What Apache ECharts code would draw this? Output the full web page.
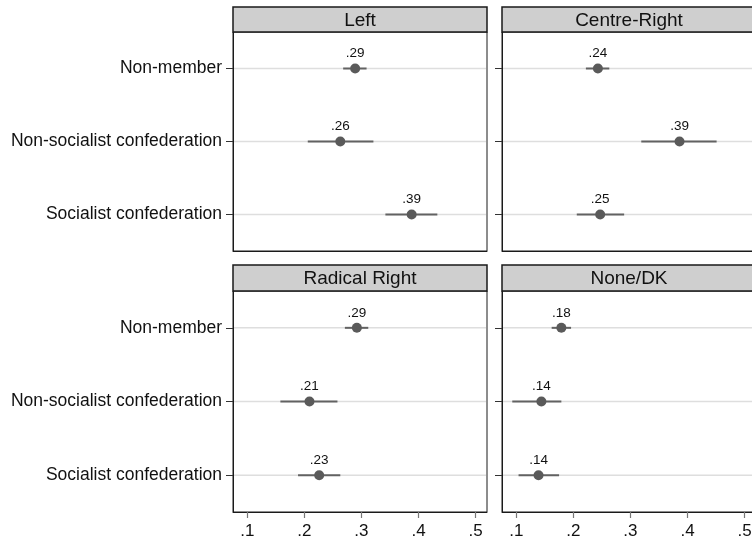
<!DOCTYPE html>
<html><head><meta charset="utf-8">
<script src="https://cdn.jsdelivr.net/npm/echarts@6/dist/echarts.min.js"></script>
<style>html,body{margin:0;padding:0;background:#fff;overflow:hidden}#c{width:752px;height:541px}</style>
</head><body><div id="c"></div>
<script>
// ---- data ----
const categories = ['Non-member', 'Non-socialist confederation', 'Socialist confederation'];
const panelTitles = ['Left', 'Centre-Right', 'Radical Right', 'None/DK'];
const xTicks = [0.1, 0.2, 0.3, 0.4, 0.5];

const leftEst  = [0.289, 0.263, 0.388];
const leftLow  = [0.268, 0.206, 0.342];
const leftHigh = [0.309, 0.321, 0.433];

const centreRightEst  = [0.243, 0.386, 0.247];
const centreRightLow  = [0.222, 0.319, 0.206];
const centreRightHigh = [0.263, 0.451, 0.289];

const radicalRightEst  = [0.292, 0.209, 0.226];
const radicalRightLow  = [0.271, 0.158, 0.189];
const radicalRightHigh = [0.312, 0.258, 0.263];

const noneEst  = [0.179, 0.144, 0.139];
const noneLow  = [0.162, 0.093, 0.104];
const noneHigh = [0.196, 0.179, 0.175];

const panelData = [
  [leftEst, leftLow, leftHigh],
  [centreRightEst, centreRightLow, centreRightHigh],
  [radicalRightEst, radicalRightLow, radicalRightHigh],
  [noneEst, noneLow, noneHigh]
];

// ---- layout ----
const FONT = '"Liberation Sans", Arial, Helvetica, sans-serif';
const colX = [233, 502];
const panelW = 254;
const rows = [{top: 32, h: 219, headTop: 7}, {top: 291, h: 221, headTop: 265}];

const grids = [], xAxes = [], yAxes = [], series = [], graphics = [];
for (let p = 0; p < 4; p++) {
  const col = p % 2, row = Math.floor(p / 2);
  const left = colX[col], r = rows[row];
  grids.push({left: left, top: r.top, width: panelW, height: r.h, show: true,
    borderColor: '#1a1a1a', borderWidth: 1, backgroundColor: '#fff',
    containLabel: false, outerBoundsMode: 'none'});
  const bottom = row === 1;
  xAxes.push({type: 'value', gridIndex: p, min: 0.075, max: 0.52,
    axisLine: {show: true, onZero: false, lineStyle: {color: '#1a1a1a', width: 1}},
    axisTick: {show: bottom, length: 6, customValues: xTicks, lineStyle: {color: '#777', width: 1.2}},
    axisLabel: {show: bottom, customValues: xTicks, margin: 11, fontSize: 17, color: '#111', fontFamily: FONT,
      formatter: v => String(+v.toFixed(1)).replace(/^0/, '')},
    splitLine: {show: false}});
  yAxes.push({type: 'category', gridIndex: p, data: categories, inverse: true,
    axisLine: {show: true, lineStyle: {color: '#1a1a1a', width: 1}},
    axisTick: {show: true, alignWithLabel: true, length: 7, lineStyle: {color: '#333', width: 1}},
    axisLabel: {show: col === 0, margin: 11, fontSize: 17.5, color: '#111', fontFamily: FONT},
    splitLine: {show: false}});
  const [est, lo, hi] = panelData[p];
  series.push({type: 'custom', xAxisIndex: p, yAxisIndex: p, z: 2,
    encode: {x: [1, 2], y: 0},
    data: categories.map((c, i) => [i, lo[i], hi[i]]),
    renderItem: function (params, api) {
      const cs = params.coordSys;
      const a = api.coord([api.value(1), api.value(0)]);
      const b = api.coord([api.value(2), api.value(0)]);
      return {type: 'group', children: [
        {type: 'line', shape: {x1: cs.x + 1, y1: a[1], x2: cs.x + cs.width - 1, y2: a[1]},
          style: {stroke: '#dedede', lineWidth: 1.5}},
        {type: 'line', shape: {x1: a[0], y1: a[1], x2: b[0], y2: b[1]},
          style: {stroke: '#626262', lineWidth: 2}}
      ]};
    },
    silent: true});
  series.push({type: 'scatter', xAxisIndex: p, yAxisIndex: p, z: 3,
    symbol: 'circle', symbolSize: 10,
    itemStyle: {color: '#5a5a5a', opacity: 1},
    data: categories.map((c, i) => [est[i], c]),
    label: {show: true, position: 'top', distance: 3, fontSize: 13.5, color: '#111', fontFamily: FONT,
      formatter: prm => prm.value[0].toFixed(2).replace(/^0/, '')},
    silent: true});
  const hh = r.top - r.headTop;
  graphics.push({type: 'rect', shape: {x: left, y: r.headTop, width: panelW, height: hh},
    style: {fill: '#cfcfcf', stroke: '#1a1a1a', lineWidth: 1.5}, z: 10});
  graphics.push({type: 'text', x: left + panelW / 2, y: r.headTop + hh / 2 + 1, z: 11,
    style: {text: panelTitles[p], fill: '#111', fontSize: 19, fontFamily: FONT,
      align: 'center', verticalAlign: 'middle'}});
}

const chart = echarts.init(document.getElementById('c'), null, {renderer: 'canvas'});
chart.setOption({
  animation: false,
  backgroundColor: '#fff',
  grid: grids, xAxis: xAxes, yAxis: yAxes, series: series, graphic: graphics
});
</script></body></html>
